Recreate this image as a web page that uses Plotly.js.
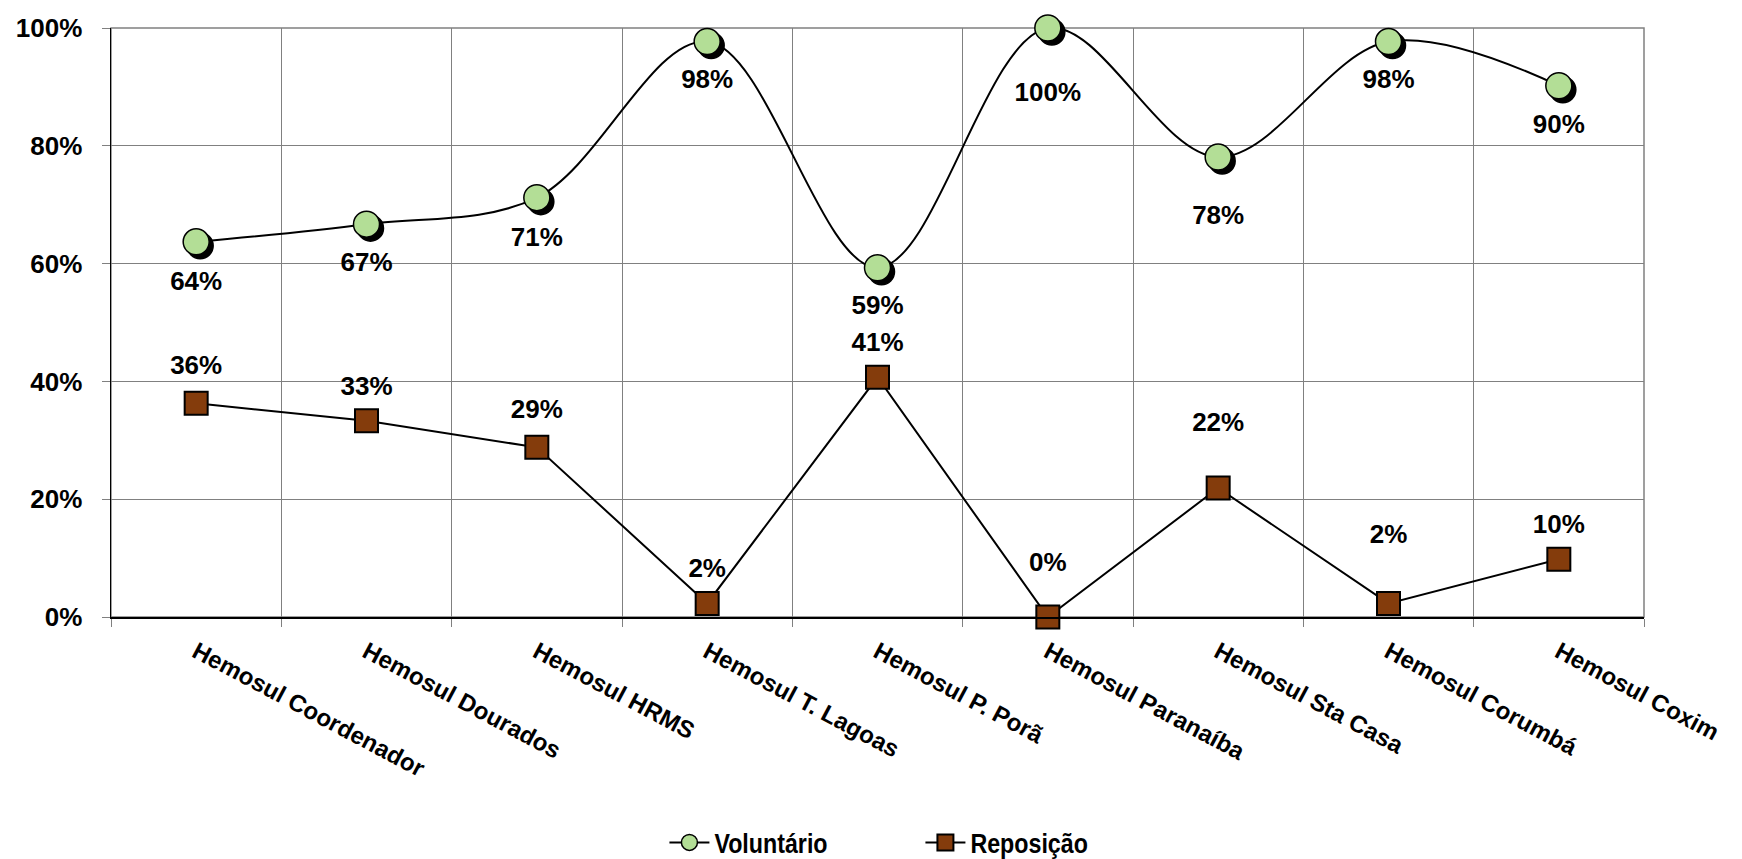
<!DOCTYPE html>
<html>
<head>
<meta charset="utf-8">
<script src="https://cdn.plot.ly/plotly-3.0.1.min.js"></script>
<style>
  html, body { margin: 0; padding: 0; background: #fff; }
  #chart { width: 1742px; height: 859px; }
  .scatterlayer .trace:nth-child(1) .points path.point { filter: drop-shadow(4px 4px 0 #000); }
  .legend .legendtext { transform-box: fill-box; transform-origin: left center; transform: scaleX(0.83); }
</style>
</head>
<body>
<div id="chart"></div>
<script>
const categories = ['Hemosul Coordenador','Hemosul Dourados','Hemosul HRMS','Hemosul T. Lagoas','Hemosul P. Porã','Hemosul Paranaíba','Hemosul Sta Casa','Hemosul Corumbá','Hemosul Coxim'];
const voluntario = [0.637, 0.667, 0.712, 0.977, 0.593, 1.0, 0.781, 0.977, 0.902];
const reposicao  = [0.363, 0.333, 0.288, 0.023, 0.407, 0.0, 0.219, 0.023, 0.098];

// label spacing (style only): size of the invisible anchor used to place each data label
const volLabelGap = [44, 42, 44, 41, 42, 84, 74, 41, 43];
const repLabelGap = [34, 30, 35, 30, 30, 61, 80, 84, 30];

const fontFam = '"Liberation Sans", Arial, sans-serif';
const labelFont = { family: fontFam, size: 26, color: '#000', weight: 'bold' };

const traces = [
  {
    name: 'Voluntário', x: categories, y: voluntario, type: 'scatter', mode: 'lines+markers',
    line: { color: '#000', width: 2, shape: 'spline', smoothing: 1 },
    marker: { symbol: 'circle', size: 26, color: '#b3de96', line: { color: '#000', width: 1.5 } },
    cliponaxis: false
  },
  {
    name: 'Reposição', x: categories, y: reposicao, type: 'scatter', mode: 'lines+markers',
    line: { color: '#000', width: 2 },
    marker: { symbol: 'square', size: 23, color: '#843c0c', line: { color: '#000', width: 2 } },
    cliponaxis: false
  },
  {
    name: 'Voluntário rótulos', x: categories, y: voluntario, type: 'scatter', mode: 'markers+text',
    marker: { size: volLabelGap, opacity: 0 }, showlegend: false, hoverinfo: 'skip',
    texttemplate: '%{y:.0%}', textposition: 'bottom center', textfont: labelFont,
    cliponaxis: false
  },
  {
    name: 'Reposição rótulos', x: categories, y: reposicao, type: 'scatter', mode: 'markers+text',
    marker: { size: repLabelGap, opacity: 0 }, showlegend: false, hoverinfo: 'skip',
    texttemplate: '%{y:.0%}', textposition: 'top center', textfont: labelFont,
    cliponaxis: false
  }
];

const layout = {
  width: 1742, height: 859,
  margin: { l: 111, r: 98, t: 28, b: 242 },
  paper_bgcolor: '#fff', plot_bgcolor: '#fff',
  font: { family: fontFam, color: '#000' },
  showlegend: true,
  legend: {
    orientation: 'h', x: 0.528, xanchor: 'center', yref: 'container', y: 0.019, yanchor: 'middle',
    font: { family: fontFam, size: 28, weight: 'bold', color: '#000' },
    entrywidth: 201, entrywidthmode: 'pixels', itemwidth: 40
  },
  xaxis: {
    type: 'category', tickson: 'boundaries', automargin: false,
    showgrid: true, gridcolor: '#808080', gridwidth: 1,
    showline: true, linecolor: '#000', linewidth: 1.5,
    ticks: 'outside', ticklen: 8, tickcolor: '#808080',
    tickangle: 28, ticklabelstandoff: 10,
    tickfont: { family: fontFam, size: 24, weight: 'bold', color: '#000' },
    range: [-0.5, 8.5], fixedrange: true
  },
  yaxis: {
    range: [0, 1], dtick: 0.2, tickformat: '.0%', automargin: false,
    showgrid: true, gridcolor: '#808080', gridwidth: 1,
    showline: true, linecolor: '#000', linewidth: 1.5,
    ticks: 'outside', ticklen: 8, tickcolor: '#808080', ticklabelstandoff: 14,
    tickfont: { family: fontFam, size: 26, weight: 'bold', color: '#000' },
    zeroline: false, fixedrange: true
  },
  shapes: [
    { type: 'rect', xref: 'paper', yref: 'paper', x0: 0, x1: 1, y0: 0, y1: 1,
      line: { color: '#808080', width: 1.5 }, layer: 'below' }
  ]
};

Plotly.newPlot('chart', traces, layout, { displayModeBar: false, staticPlot: true });
</script>
</body>
</html>
